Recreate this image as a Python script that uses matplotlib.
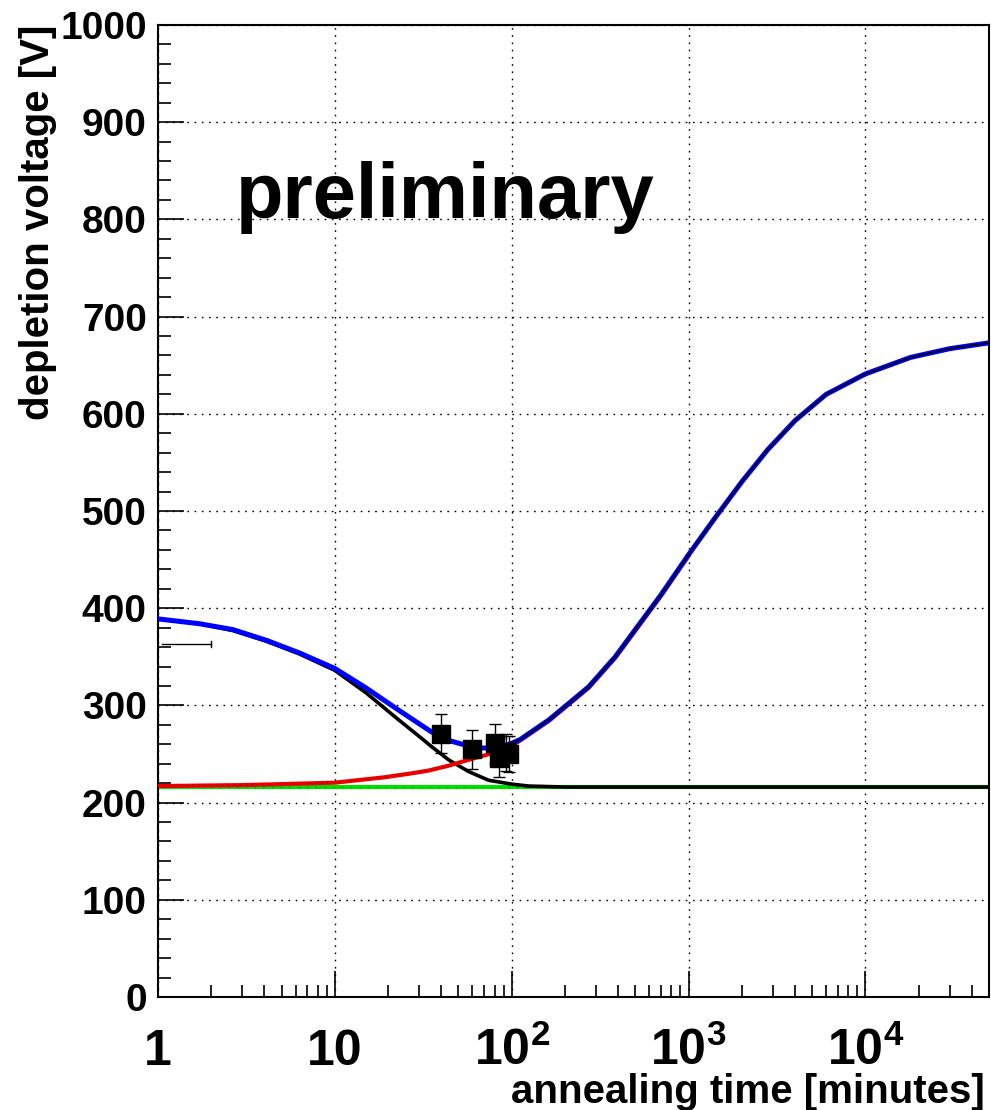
#
# Depletion voltage vs annealing time
#
import numpy as np
import matplotlib.pyplot as plt

plt.rcParams['font.family'] = ['Liberation Sans', 'DejaVu Sans']
plt.rcParams['font.weight'] = 'bold'
plt.rcParams['mathtext.fontset'] = 'custom'
plt.rcParams['mathtext.rm'] = 'Liberation Sans:bold'
plt.rcParams['mathtext.bf'] = 'Liberation Sans:bold'

# total fit (blue)
blue_t = np.array([1, 1.72, 2.65, 4.1, 6.3, 10, 15, 23, 35, 44, 55, 65, 80, 90,
                   100, 112, 125, 162, 210, 272, 385, 500, 700, 1000, 1400, 2000, 2800,
                   4000, 6000, 10000, 18000, 30000, 50000])
blue_v = np.array([389, 384, 378, 367, 354, 338, 318, 295, 273, 264, 259, 256, 256.5, 258,
                   261, 265, 271, 285, 302, 319, 350, 378, 414, 455, 492, 530, 563,
                   593, 620, 641, 658, 667, 673])

# short term annealing component (black)
black_t = np.array([1, 1.72, 2.65, 4.1, 6.3, 10, 15, 23, 31, 35, 44, 57, 74, 100, 125,
                    200, 50000])
black_v = np.array([389, 384, 377, 366, 353, 336, 313, 285, 266, 258, 244, 232, 223, 219, 217,
                    216, 216])

# reverse annealing component (red)
red_t = np.array([1, 3, 5, 10, 19, 27, 34, 44, 57, 75, 100, 125, 162, 210, 272, 385, 500,
                  700, 1000])
red_v = np.array([217, 218, 219, 220.5, 226, 230, 233, 238, 244, 250, 258, 270, 284, 301, 318,
                  349, 377, 413, 454])

# stable damage (green)
green_t = np.array([1, 50000])
green_v = np.array([216, 216])

# measurements
meas_t = np.array([40, 60, 80, 85, 93, 97])
meas_v = np.array([271, 255, 261, 246, 252, 250])
meas_err = np.array([20, 20, 20, 20, 19, 19])

# stray horizontal error bar at the left edge
stray_t = np.array([1.05, 2.0])
stray_v = 363

fig = plt.figure(figsize=(9.91, 11.10), dpi=100)
ax = fig.add_axes([0.1594, 0.1018, 0.8386, 0.8757])

ax.plot(green_t, green_v, color='#00e000', lw=3.0, zorder=2)
ax.plot(green_t, green_v, color='#006000', lw=0.7, ls=(0, (1, 8)), zorder=2)
ax.plot(black_t, black_v, color='black', lw=2.6, zorder=3)
ax.plot(red_t, red_v, color='#ee0000', lw=3.0, zorder=4)
ax.plot(red_t, red_v, color='#600000', lw=0.7, ls=(0, (1, 5)), zorder=4)
ax.plot(blue_t, blue_v, color='#0000ff', lw=3.6, zorder=5)
late = blue_t >= 100
ax.plot(blue_t[late], blue_v[late], color='black', lw=1.2, zorder=6)

ax.errorbar(meas_t, meas_v, yerr=meas_err, fmt='s', color='black', ms=13,
            ecolor='black', elinewidth=1.0, capsize=4, capthick=1.0, zorder=7)
ax.plot(stray_t, [stray_v, stray_v], color='black', lw=1.0, zorder=7)
ax.plot([stray_t[1], stray_t[1]], [stray_v - 3, stray_v + 3], color='black', lw=1.0, zorder=7)

ax.text(42, 823, 'preliminary', fontsize=56, fontweight='bold', ha='center', va='center')

ax.set_xscale('log')
ax.set_xlim(1, 50000)
ax.set_ylim(0, 1000)

ax.set_yticks(np.arange(0, 1001, 100))
ax.set_yticks(np.arange(0, 1001, 20), minor=True)
ax.set_xticks([1, 10, 100, 1000, 10000])
ax.set_xticklabels(['1', '10', r'$\mathbf{10^{2}}$', r'$\mathbf{10^{3}}$', r'$\mathbf{10^{4}}$'],
                   va='baseline')

ax.tick_params(which='both', direction='in', top=False, right=False, width=1.2)
ax.tick_params(axis='y', labelsize=28)
ax.tick_params(axis='x', labelsize=36)
ax.tick_params(which='major', length=19)
ax.tick_params(which='minor', length=9)
ax.tick_params(axis='x', which='major', pad=49)
ax.tick_params(axis='y', which='major', pad=8)

ax.grid(True, which='major', color='black', linestyle=(0, (1.2, 4)), lw=1.0)
for s in ax.spines.values():
    s.set_linewidth(1.5)

ax.set_xlabel('annealing time [minutes]', fontsize=29, fontweight='bold', loc='right')
ax.xaxis.set_label_coords(0.995, -0.078)
ax.set_ylabel('depletion voltage [V]', fontsize=29, fontweight='bold', loc='top', labelpad=2)

fig.savefig('out.png', dpi=100)
